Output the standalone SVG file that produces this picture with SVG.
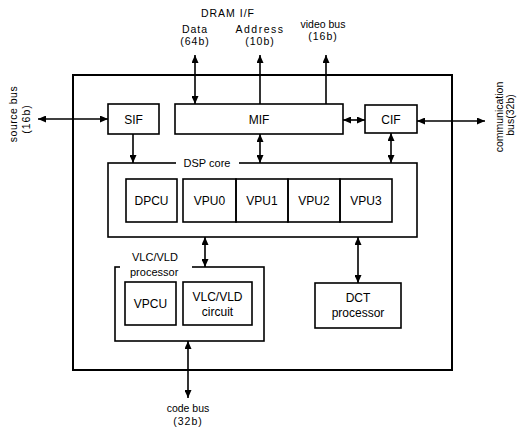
<svg xmlns="http://www.w3.org/2000/svg" width="520" height="428" viewBox="0 0 520 428">
<style>
.box{fill:none;stroke:#000;stroke-width:1.6}
.outer{fill:none;stroke:#000;stroke-width:2}
.c{fill:none;stroke:#000;stroke-width:1.6}
text{font-family:"Liberation Sans",Arial,sans-serif;fill:#000}
.lb{font-size:12px;text-anchor:middle}
.sm{font-size:10.5px;text-anchor:middle}
</style>
<defs>
<marker id="ah" markerUnits="userSpaceOnUse" markerWidth="9" markerHeight="7" refX="8" refY="3.5" orient="auto-start-reverse">
<path d="M0,0 L8,3.5 L0,7 z" fill="#000"/>
</marker>
</defs>
<rect id="chip" class="outer" x="73" y="75" width="379" height="295"/>
<g id="sif"><rect class="box" x="108" y="104" width="51" height="30"/><text class="lb" x="133.5" y="124">SIF</text></g>
<g id="mif"><rect class="box" x="175" y="104" width="168" height="30"/><text class="lb" x="259" y="124">MIF</text></g>
<g id="cif"><rect class="box" x="365" y="105" width="52" height="28"/><text class="lb" x="391" y="124">CIF</text></g>
<g id="dsp"><rect class="box" x="108" y="163" width="309" height="74"/><rect x="176" y="157" width="63" height="12" fill="#fff"/><text x="207" y="167" font-size="11px" text-anchor="middle">DSP core</text></g>
<g id="dpcu"><rect class="box" x="126" y="179" width="51" height="43"/><text class="lb" x="151.5" y="205">DPCU</text></g>
<g id="vpu0"><rect class="box" x="183" y="179" width="53" height="43"/><text class="lb" x="209.5" y="205">VPU0</text></g>
<g id="vpu1"><rect class="box" x="236" y="179" width="52" height="43"/><text class="lb" x="262" y="205">VPU1</text></g>
<g id="vpu2"><rect class="box" x="288" y="179" width="52" height="43"/><text class="lb" x="314" y="205">VPU2</text></g>
<g id="vpu3"><rect class="box" x="340" y="179" width="52" height="43"/><text class="lb" x="366" y="205">VPU3</text></g>
<g id="vlc"><rect class="box" x="115" y="267" width="149" height="74"/><rect x="120" y="262" width="72" height="14" fill="#fff"/><text x="132" y="261" font-size="11px">VLC/VLD</text><text x="130" y="276" font-size="11px">processor</text></g>
<g id="vpcu"><rect class="box" x="125" y="282" width="51" height="43"/><text class="lb" x="150.5" y="308">VPCU</text></g>
<g id="vlccirc"><rect class="box" x="183" y="282" width="69" height="43"/><text class="lb" x="217.5" y="301">VLC/VLD</text><text class="lb" x="217.5" y="316">circuit</text></g>
<g id="dct"><rect class="box" x="315" y="283" width="86" height="45"/><text class="lb" x="358" y="302">DCT</text><text class="lb" x="358" y="317">processor</text></g>
<g id="labels">
<text class="sm" x="228" y="17" letter-spacing="1">DRAM I/F</text>
<text class="sm" x="195" y="33" letter-spacing="1">Data</text>
<text class="sm" x="195" y="45" letter-spacing="1">(64b)</text>
<text class="sm" x="260" y="33" letter-spacing="1.5">Address</text>
<text class="sm" x="260" y="45" letter-spacing="1">(10b)</text>
<text class="sm" x="323" y="28">video bus</text>
<text class="sm" x="323" y="40" letter-spacing="1">(16b)</text>
<text class="sm" transform="translate(17,114) rotate(-90)" letter-spacing="0.5">source bus</text>
<text class="sm" transform="translate(30,119) rotate(-90)" letter-spacing="1">(16b)</text>
<text class="sm" transform="translate(503,117) rotate(-90)">communication</text>
<text class="sm" transform="translate(514,115) rotate(-90)">bus(32b)</text>
<text class="sm" x="188" y="412">code bus</text>
<text class="sm" x="188" y="425" letter-spacing="1">(32b)</text>
</g>
<g id="connectors">
<line class="c" x1="38" y1="119" x2="108" y2="119" marker-start="url(#ah)" marker-end="url(#ah)"/>
<line class="c" x1="195" y1="104" x2="195" y2="55" marker-start="url(#ah)" marker-end="url(#ah)"/>
<line class="c" x1="260" y1="104" x2="260" y2="55" marker-end="url(#ah)"/>
<line class="c" x1="326" y1="104" x2="326" y2="55" marker-end="url(#ah)"/>
<line class="c" x1="343" y1="120" x2="365" y2="120" marker-start="url(#ah)" marker-end="url(#ah)"/>
<line class="c" x1="417" y1="121" x2="485" y2="121" marker-start="url(#ah)" marker-end="url(#ah)"/>
<line class="c" x1="133" y1="134" x2="133" y2="163" marker-end="url(#ah)"/>
<line class="c" x1="260" y1="134" x2="260" y2="163" marker-start="url(#ah)" marker-end="url(#ah)"/>
<line class="c" x1="391" y1="133" x2="391" y2="163" marker-start="url(#ah)" marker-end="url(#ah)"/>
<line class="c" x1="205" y1="237" x2="205" y2="267" marker-start="url(#ah)" marker-end="url(#ah)"/>
<line class="c" x1="358" y1="237" x2="358" y2="283" marker-start="url(#ah)" marker-end="url(#ah)"/>
<line class="c" x1="188" y1="341" x2="188" y2="398" marker-start="url(#ah)" marker-end="url(#ah)"/>
</g>
</svg>
